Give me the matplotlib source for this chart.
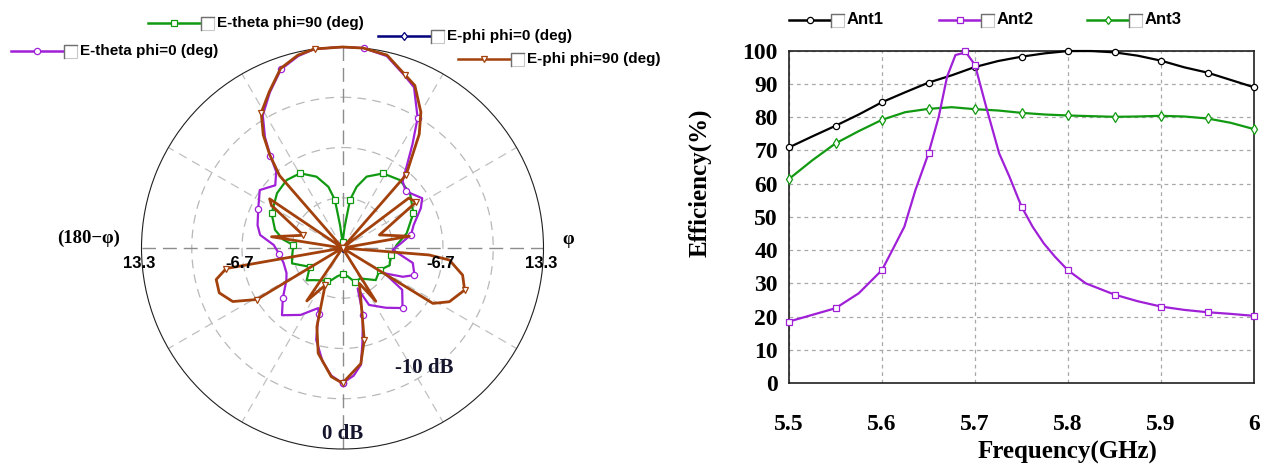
import numpy as np
import matplotlib
matplotlib.use("Agg")
import matplotlib.pyplot as plt
from matplotlib.lines import Line2D
from matplotlib.patches import Rectangle
from matplotlib import font_manager

W, H = 1268, 467

# ---- radiation pattern (angle from broadside in deg, gain in dB) ----
floor_db = -26.7
top_db = 13.3
ring_db = [-16.7, -6.7, 3.3]

ephi90_ang = [-180, -175, -167, -162, -155, -146, -143, -123, -121, -116, -110, -104,
              -100, -97, -85, -81, -72, -59, -56, -52, -43, -41, -38, -35, -31, -25,
              -19, -13, -8, 0, 6, 13, 20, 24, 30, 34, 41, 43, 51, 53, 58, 70.5, 80,
              84, 93, 94.6, 96.4, 102.7, 109, 116.7, 121.5, 123, 143, 148, 154.6,
              160.4, 166.7, 171, 180]
ephi90_db = [0.2, -1.0, -5.2, -10.2, -18.5, -14.0, -40, -40, -6.8, -2.4, -0.6, -0.8,
             -3.2, -40, -40, -12.4, -18.5, -10.2, -9.2, -40, -40, -7.6, -3.2, 0.8, 4.7, 7.7,
             11.1, 12.7, 13.3, 13.3, 13.3, 12.7, 9.9, 8.7, 4.5, 0.6, -7.4, -40, -40, -10.2,
             -9.4, -18.9, -13.2, -40, -40, -9.4, -5.3, -2.2, -1.0, -2.9, -5.6, -40, -40,
             -14.2, -18.9, -15.8, -7.9, -3.4, 0.2]

etheta0_ang = [-180, -175, -170, -164, -160, -158, -148, -138, -130, -120, -114, -104,
               -95, -87.5, -81, -75, -65, -55, -47, -41, -38, -35, -31, -25, -19, -13,
               -8, 0, 6, 13, 20, 24, 30, 34, 38.6, 42, 48, 58, 63, 72, 79, 86, 92, 102,
               110.6, 115.5, 121, 125, 135, 144, 155, 159.4, 163, 168, 171, 175, 180]
etheta0_db = [0.2, -1.2, -3.8, -7.7, -12.8, -13.8, -11.0, -8.7, -11.2, -13.8, -14.5, -14.6,
              -14.0, -13.0, -10.1, -9.2, -8.2, -6.6, -8.4, -6.6, -3.4, 0.2, 4.1, 7.5, 10.9,
              12.5, 13.3, 13.3, 13.3, 12.5, 9.7, 8.3, 3.2, -1.8, -6.4, -8.8, -9.8, -8.0,
              -9.2, -11.8, -12.8, -15.2, -16.7, -12.4, -11.4, -13.4, -16.9, -12.2, -9.8,
              -12.0, -14.2, -18.1, -12.8, -7.6, -3.2, -1.2, 0.2]

etheta90_ang = [-180, -170, -160, -154, -138, -132, -120, -107, -100, -86.5, -82, -75,
                -64, -50, -39.4, -29.6, -20, -13, -9, -7.6, -6, 0, 6, 7.6, 8.9, 13, 18.7,
                28.6, 40.2, 51, 63.9, 77.1, 86.8, 98, 106, 110, 121, 134, 150, 160, 170,
                180]
etheta90_db = [-21.5, -21.0, -19.8, -19.5, -18.1, -17.1, -19.2, -16.2, -16.5, -16.9, -14.8,
               -12.8, -11.0, -9.7, -9.2, -9.6, -11.6, -14.2, -17.0, -20.4, -22.3, -25.5,
               -22.3, -20.4, -17.0, -14.2, -11.7, -9.8, -9.0, -9.4, -11.0, -13.6, -15.9,
               -16.9, -16.9, -16.7, -18.1, -17.5, -19.7, -19.5, -21.0, -21.5]

ephi0_ang = [-180, -90, 0, 90, 180]
ephi0_db = [-40, -40, -40, -40, -40]

pattern_labels = ["E-theta phi=90 (deg)", "E-phi phi=0 (deg)",
                  "E-theta phi=0 (deg)", "E-phi phi=90 (deg)"]

# ---- radiation efficiency vs frequency ----
ant1_f = [5.5, 5.525, 5.55, 5.575, 5.6, 5.625, 5.65, 5.675, 5.7, 5.725, 5.75, 5.775,
          5.8, 5.825, 5.85, 5.875, 5.9, 5.925, 5.95, 5.975, 6.0]
ant1_eff = [70.9, 74.2, 77.4, 80.8, 84.5, 87.5, 90.4, 92.6, 95.1, 96.9, 98.2, 99.2,
            99.9, 99.9, 99.5, 98.5, 97.0, 95.0, 93.4, 91.2, 89.0]

ant2_f = [5.5, 5.525, 5.55, 5.575, 5.6, 5.613, 5.624, 5.636, 5.65, 5.661, 5.67, 5.679,
          5.686, 5.689, 5.7, 5.712, 5.726, 5.737, 5.75, 5.762, 5.774, 5.786, 5.8, 5.819,
          5.85, 5.875, 5.9, 5.925, 5.95, 5.975, 6.0]
ant2_eff = [18.5, 20.5, 22.5, 27.0, 34.0, 41.0, 47.0, 58.1, 69.1, 80.1, 92.2, 98.7,
            99.2, 100.0, 95.7, 83.1, 69.1, 62.1, 53.1, 47.0, 42.0, 38.0, 33.9, 30.0,
            26.6, 24.6, 23.0, 22.0, 21.3, 20.8, 20.2]

ant3_f = ant1_f
ant3_eff = [61.4, 67.0, 72.1, 75.8, 79.2, 81.5, 82.5, 83.0, 82.4, 82.0, 81.3, 80.8,
            80.5, 80.3, 80.1, 80.2, 80.4, 80.2, 79.6, 78.3, 76.4]

freq_ticks = [5.5, 5.6, 5.7, 5.8, 5.9, 6.0]
freq_ticklabels = ["5.5", "5.6", "5.7", "5.8", "5.9", "6"]
eff_ticks = list(range(0, 101, 10))
ant_labels = ["Ant1", "Ant2", "Ant3"]

PURPLE = "#a020d8"
GREEN = "#119a11"
BROWN = "#a3410c"
NAVY = "#00007a"

avail = {f.name for f in font_manager.fontManager.ttflist}
narrow = "Liberation Sans Narrow" if "Liberation Sans Narrow" in avail else "Liberation Sans"
serif = "Liberation Serif"


def fx(x):
    return x / W


def fy(y):
    return 1 - y / H


fig = plt.figure(figsize=(W / 100, H / 100), dpi=100)
fig.patch.set_facecolor("white")

# ================= polar pattern =================
cx, cy, R = 342.5, 248, 201
ax = fig.add_axes([fx(cx - R), fy(cy + R), 2 * R / W, 2 * R / H], projection="polar")
ax.set_theta_zero_location("N")
ax.set_theta_direction(-1)
span = top_db - floor_db
ax.set_ylim(0, span)
ax.set_xticks([])
ax.set_yticks([])
ax.grid(False)
ax.spines["polar"].set_linewidth(0.8)
ax.spines["polar"].set_color("#202020")

full = np.linspace(0, 2 * np.pi, 361)
for rd in ring_db:
    ax.plot(full, np.full_like(full, rd - floor_db), color="#b8b8b8", lw=0.9,
            dashes=(7, 5), zorder=1)
for a in range(0, 360, 30):
    t = np.deg2rad(a)
    if a % 90 == 0:
        ax.plot([t, t], [0, span], color="#8c8c8c", lw=1.0, dashes=(10, 5), zorder=1)
    else:
        ax.plot([t, t], [0, span], color="#c0c0c0", lw=0.9, dashes=(7, 5), zorder=1)


def polar_curve(ang, db, color, marker, lw, every, z):
    th = np.deg2rad(np.asarray(ang, float))
    r = np.clip(np.asarray(db, float), floor_db, top_db) - floor_db
    ax.plot(th, r, color=color, lw=lw, marker=marker, ms=4.5, mfc="white",
            mec=color, mew=0.9, markevery=every, zorder=z, clip_on=False)


polar_curve(ephi0_ang, ephi0_db, NAVY, "d", 1.5, 2, 2)
polar_curve(etheta90_ang, etheta90_db, GREEN, "s", 1.6, 3, 3)
polar_curve(etheta0_ang, etheta0_db, PURPLE, "o", 1.6, 4, 4)
polar_curve(ephi90_ang, ephi90_db, BROWN, "v", 2.0, 4, 5)

fig.text(fx(89), fy(238), "(180\u2212\u03c6)", fontsize=13.5, fontweight="bold",
         family=serif, ha="center", va="center")
fig.text(fx(568), fy(239), "\u03c6", fontsize=13.5, fontweight="bold",
         family=serif, ha="center", va="center")
for val in (top_db, -6.7):
    rp = (val - floor_db) / span * R
    for side in (-1, 1):
        fig.text(fx(cx + side * rp - 2), fy(263), f"{val:.1f}", fontsize=12,
                 fontweight="bold", family=narrow, ha="center", va="center")
fig.text(fx(424), fy(368), "-10 dB", fontsize=15, fontweight="bold", family=serif,
         color="#15152e", ha="center", va="center")
fig.text(fx(343), fy(434), "0 dB", fontsize=15, fontweight="bold", family=serif,
         color="#15152e", ha="center", va="center")


def legend_entry(x0, y, color, marker, text, line_len=52, fs=11):
    x1 = x0 + line_len
    fig.add_artist(Line2D([fx(x0), fx(x1)], [fy(y), fy(y)], color=color, lw=1.8))
    fig.add_artist(Line2D([fx((x0 + x1) / 2)], [fy(y)], color=color, marker=marker,
                          ms=4.5, mfc="white", mec=color, mew=0.9))
    bx, bs = x1 + 1, 13
    fig.add_artist(Rectangle((fx(bx), fy(y + bs / 2)), bs / W, bs / H,
                             facecolor="white", edgecolor="#c8c8c8", lw=0.8))
    fig.add_artist(Line2D([fx(bx), fx(bx), fx(bx + bs)],
                          [fy(y + bs / 2), fy(y - bs / 2), fy(y - bs / 2)],
                          color="#707070", lw=1.0))
    fig.text(fx(bx + bs + 3), fy(y), text, fontsize=fs, family=narrow,
             fontweight="bold", ha="left", va="center")


legend_entry(148, 23, GREEN, "s", pattern_labels[0])
legend_entry(378, 36, NAVY, "d", pattern_labels[1])
legend_entry(11, 51, PURPLE, "o", pattern_labels[2])
legend_entry(458, 59, BROWN, "v", pattern_labels[3])

# ================= efficiency =================
ax2 = fig.add_axes([fx(789), fy(383), (1254 - 789) / W, (383 - 50.7) / H])
ax2.plot(ant1_f, ant1_eff, color="black", lw=1.6, marker="o", ms=4.5, mfc="white",
         mew=0.9, markevery=2, zorder=3, clip_on=False)
ax2.plot(ant3_f, ant3_eff, color=GREEN, lw=1.6, marker="d", ms=5, mfc="white",
         mew=0.9, markevery=2, zorder=3, clip_on=False)
ax2.plot(ant2_f, ant2_eff, color=PURPLE, lw=1.6, marker="s", ms=4.5, mfc="white",
         mew=0.9, markevery=[0, 2, 4, 8, 13, 14, 18, 22, 24, 26, 28, 30], zorder=4,
         clip_on=False)
ax2.set_xlim(5.5, 6.0)
ax2.set_ylim(0, 100)
ax2.set_xticks(freq_ticks)
ax2.set_xticklabels(freq_ticklabels)
ax2.set_yticks(eff_ticks)
ax2.grid(True, color="#a8a8a8", lw=0.9, dashes=(3, 3))
ax2.tick_params(length=0)
ax2.tick_params(axis="x", pad=22)
ax2.tick_params(axis="y", pad=8)
for lab in ax2.get_xticklabels() + ax2.get_yticklabels():
    lab.set_family(serif)
    lab.set_fontweight("bold")
    lab.set_fontsize(17)
for sp in ax2.spines.values():
    sp.set_linewidth(1.2)
    sp.set_color("#202020")

fig.text(fx(700), fy(183), "Efficiency(%)", rotation=90, fontsize=18,
         fontweight="bold", family=serif, ha="center", va="center")
fig.text(fx(1067), fy(452), "Frequency(GHz)", fontsize=18, fontweight="bold",
         family=serif, ha="center", va="center")

legend_entry(789, 20, "black", "o", ant_labels[0], line_len=41, fs=12)
legend_entry(939, 20, PURPLE, "s", ant_labels[1], line_len=41, fs=12)
legend_entry(1087, 20, GREEN, "d", ant_labels[2], line_len=41, fs=12)

fig.savefig("out.png", dpi=100)
